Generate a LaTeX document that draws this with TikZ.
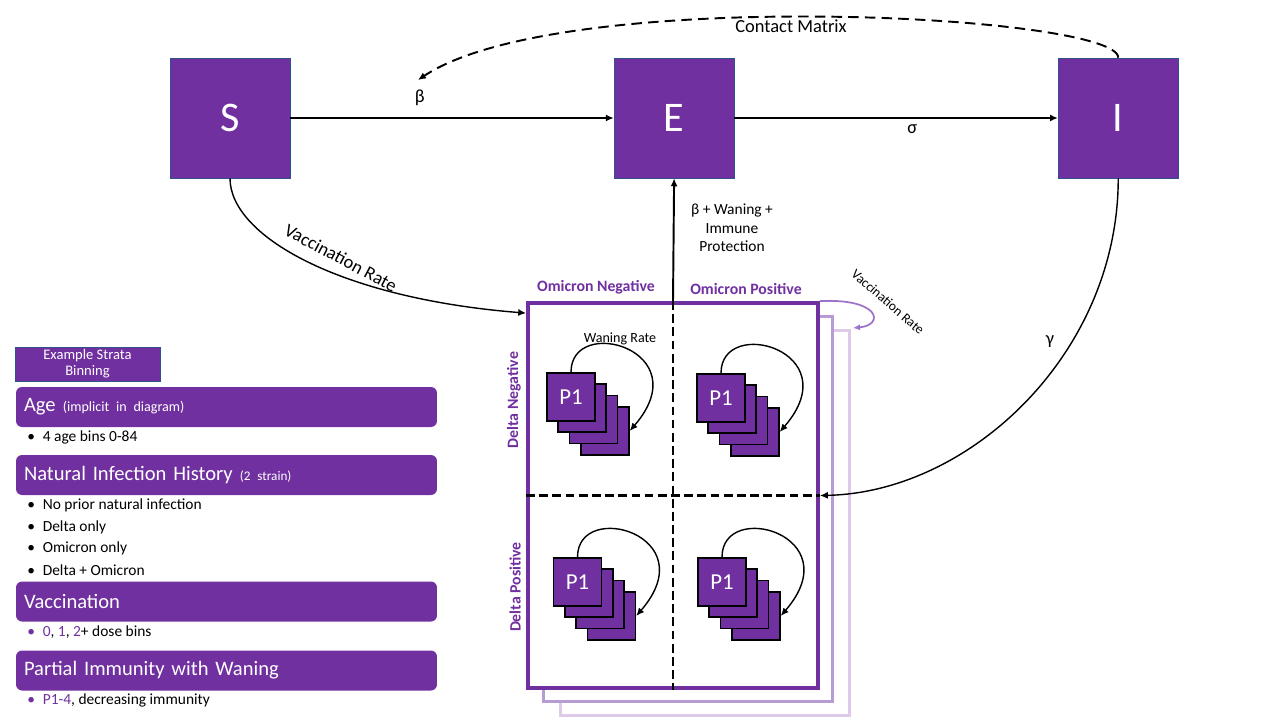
\documentclass[tikz,border=0pt]{standalone}
\usepackage{fontspec}
\setmainfont{Carlito}
\usetikzlibrary{arrows.meta,positioning,backgrounds}
\definecolor{vpurple}{HTML}{7030A0}
\definecolor{bblue}{HTML}{2F528F}
\definecolor{lpurple}{HTML}{B79BD4}
\definecolor{llpurple}{HTML}{DCCAE8}
\definecolor{mpurple}{HTML}{9E74CB}

\begin{document}
\begin{tikzpicture}[x=0.02cm, y=-0.02cm,
    cbox/.style={draw=bblue, line width=0.4pt, fill=vpurple, text=white, minimum size=2.4cm, inner sep=0pt, font=\fontsize{24}{28}\selectfont},
    pbox/.style={draw=black, line width=1pt, fill=vpurple, text=white, minimum size=0.96cm, inner sep=0pt, font=\fontsize{13}{15}\selectfont},
    hdr/.style={fill=vpurple, rounded corners=3.4pt, text=white, minimum height=0.8cm, text width=8.1cm, inner xsep=0.16cm, align=left, font=\fontsize{11.7}{14}\selectfont},
    bul/.style={anchor=west, inner sep=0pt, font=\fontsize{8.8}{10}\selectfont},
    layer/.style={minimum width=5.8cm, minimum height=7.7cm, fill=white},
    flow/.style={-{Latex[length=4.5pt,width=4pt]}, line width=1.1pt},
    thin flow/.style={-{Latex[length=4.5pt,width=4pt]}, line width=0.8pt},
    lbl/.style={font=\fontsize{10.5}{12}\selectfont},
    strain/.style={text=vpurple, font=\bfseries\fontsize{9}{11}\selectfont},
    split/.style={dash pattern=on 5pt off 2.5pt, line width=1.6pt}]
        \useasboundingbox (0,0) rectangle (1280,720);

        \node[cbox] (S) at (230,118) {S};
        \node[cbox, right=6.47cm of S] (E) {E};
        \node[cbox, right=6.47cm of E] (I) {I};

        % strata box with its copies behind
        \node[layer, draw=llpurple, line width=1.7pt] (back2) at (705,523) {};
        \node[layer, draw=lpurple, line width=1.7pt] (back1) at (688,509) {};
        \node[layer, draw=vpurple, line width=2.2pt] (cells) at (673,495.5) {};
        \draw[split] (cells.north) -- (cells.south);
        \draw[split] (cells.west) -- (cells.east);

        \node[strain] (oneg) at (596,287) {Omicron Negative};
        \node[strain] (opos) at (746,289) {Omicron Positive};
        \node[strain, rotate=90] (dneg) at (514,400) {Delta Negative};
        \node[strain, rotate=90] (dpos) at (515,587) {Delta Positive};
        \node[font=\fontsize{8}{9}\selectfont] (wane) at (620,339) {Waning Rate};

        \foreach \cx/\cy/\n in {571/397/a, 721/398/b, 577.5/582/c, 722/582/d} {
            \foreach \k in {3,2,1}
                \node[pbox] (\n\k) at (\cx+\k*11.3, \cy+\k*11.3) {};
            \node[pbox] (\n0) at (\cx,\cy) {P1};
            \draw[thin flow] (\n0.north) .. controls +(0,-58) and +(70,-81) .. (\n3.east);
        }

        \coordinate (cm end) at (418,80);
        \coordinate (vacc in) at ([yshift=-0.24cm]cells.north west);
        \coordinate (loop end) at (853,328);

        \draw[flow] (S) -- node[pos=0.4, above=3pt, lbl] (beta) {β} (E);
        \draw[flow] (E) -- node[pos=0.55, below, lbl] (sigma) {σ} (I);
        \draw[flow, dash pattern=on 6pt off 3.5pt] (I.north) .. controls +(0,-43) and +(142,-95) .. (cm end);
        \node[lbl] (cmat) at (791,26) {Contact Matrix};
        \draw[flow] (cells.north) -- (E.south);
        \node[align=center, font=\fontsize{8.8}{10.5}\selectfont] (imm) at (732,228) {β + Waning +\\Immune\\Protection};
        \draw[thin flow] (S.south) .. controls +(0,57) and +(-188,-15) .. (vacc in);
        \node[lbl, rotate=-28] (vlab) at (341,258) {Vaccination Rate};
        \draw[thin flow] (I.south) .. controls +(0,175) and +(150,-3) .. (cells.east);
        \node[lbl] (gamma) at (1050,342) {γ};
        \draw[-{Latex[length=4pt,width=3.5pt]}, mpurple, line width=1pt] (cells.north east) .. controls (880,298) and (885,325) .. (loop end);
        \node[font=\fontsize{7.7}{9}\selectfont, rotate=-41] (vlab2) at (888,302) {Vaccination Rate};

        % Legend
        \node[fill=vpurple, draw=bblue, line width=0.4pt, text=white, minimum width=2.9cm, minimum height=0.68cm, inner sep=0pt, align=center, font=\fontsize{8.3}{9}\selectfont] (ex) at (87.5,364) {Example Strata\\Binning};
        \node[hdr] (age) at (226.5,407) {Age\hspace{0.35em}{\fontsize{8}{9}\selectfont(implicit in diagram)}};
        \node[bul] (b1) at (27,437) {\textbullet\enspace 4 age bins 0-84};
        \node[hdr] (nat) at (226.5,475) {Natural Infection History\hspace{0.35em}{\fontsize{7.5}{9}\selectfont(2 strain)}};
        \node[bul] (b2) at (27,505) {\textbullet\enspace No prior natural infection};
        \node[bul] (b3) at (27,527) {\textbullet\enspace Delta only};
        \node[bul] (b4) at (27,548) {\textbullet\enspace Omicron only};
        \node[bul] (b5) at (27,570) {\textbullet\enspace Delta + Omicron};
        \node[hdr] (vac) at (226.5,601.5) {Vaccination};
        \node[bul] (b6) at (27,632) {{\color{vpurple}\textbullet\enspace 0}, {\color{vpurple}1}, {\color{vpurple}2}+ dose bins};
        \node[hdr] (part) at (226.5,670.5) {Partial Immunity with Waning};
        \node[bul] (b7) at (27,700) {{\color{vpurple}\textbullet\enspace P1-4}, decreasing immunity};
\end{tikzpicture}
\end{document}
